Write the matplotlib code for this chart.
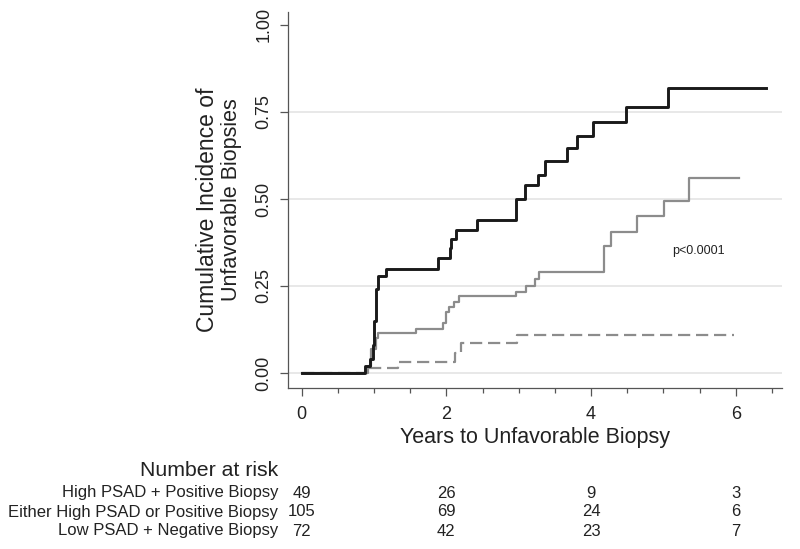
#!/usr/bin/env python3
"""
Cumulative incidence of unfavorable biopsies by PSAD / biopsy group,
with a number-at-risk table underneath.
"""

import matplotlib
matplotlib.use("Agg")
import matplotlib.pyplot as plt
import matplotlib.transforms as mtransforms

plt.rcParams['font.family'] = ['Liberation Sans', 'DejaVu Sans']

# Step curves: event times (years) and cumulative incidence after each step
HIGH_T = [0, 0.88, 0.95, 0.99, 1.00, 1.02, 1.03, 1.06, 1.17, 1.89, 2.05, 2.07,
          2.13, 2.43, 2.96, 3.09, 3.26, 3.37, 3.67, 3.81, 4.02, 4.48, 5.07, 6.42]
HIGH_Y = [0, 0.02, 0.04, 0.08, 0.15, 0.20, 0.24, 0.28, 0.30, 0.33, 0.36, 0.385,
          0.41, 0.44, 0.50, 0.54, 0.57, 0.61, 0.645, 0.68, 0.72, 0.765, 0.82, 0.82]

EITHER_T = [0, 0.92, 0.96, 1.02, 1.06, 1.58, 1.95, 1.99, 2.04, 2.10, 2.18, 2.96,
            3.10, 3.23, 3.28, 4.18, 4.27, 4.64, 5.01, 5.35, 6.04]
EITHER_Y = [0, 0.02, 0.07, 0.10, 0.115, 0.127, 0.143, 0.175, 0.19, 0.205, 0.22,
            0.233, 0.25, 0.27, 0.29, 0.365, 0.405, 0.45, 0.495, 0.56, 0.56]

LOW_T = [0, 0.90, 1.33, 2.12, 2.20, 2.98, 5.97]
LOW_Y = [0, 0.014, 0.033, 0.058, 0.085, 0.11, 0.11]

# Number at risk table
RISK_TIMES = [0, 2, 4, 6]
RISK_LABELS = ['High PSAD + Positive Biopsy',
               'Either High PSAD or Positive Biopsy',
               'Low PSAD + Negative Biopsy']
RISK_COUNTS = [[49, 26, 9, 3],
               [105, 69, 24, 6],
               [72, 42, 23, 7]]

Y_TICKS = [0, 0.25, 0.5, 0.75, 1.0]
Y_TICKLABELS = ['0.00', '0.25', '0.50', '0.75', '1.00']
X_TICKS = [0, 2, 4, 6]
YLABEL_LINES = ['Cumulative Incidence of', 'Unfavorable Biopsies']

W, H = 800, 549
TXT = '#222222'


def fy(py):
    # pixel row -> figure fraction
    return 1 - py / H


def main():
    fig = plt.figure(figsize=(W / 100, H / 100), dpi=100)
    ax = fig.add_axes([288 / W, fy(388), (782 - 288) / W, (388 - 12) / H])

    for y in [0, 0.25, 0.5, 0.75]:
        ax.axhline(y, color='#e6e6e6', lw=1.3, zorder=0)

    ax.step(LOW_T, LOW_Y, where='post', color='#8c8c8c', lw=1.6,
            dashes=(5.5, 2.6))
    ax.step(EITHER_T, EITHER_Y, where='post', color='#8c8c8c', lw=1.6)
    ax.step(HIGH_T, HIGH_Y, where='post', color='#1a1a1a', lw=2.1)

    ax.set_xlim(-0.19, 6.64)
    ax.set_ylim(-0.043, 1.037)

    for s in ['top', 'right']:
        ax.spines[s].set_visible(False)
    for s in ['left', 'bottom']:
        ax.spines[s].set_color('#555555')
        ax.spines[s].set_linewidth(0.9)

    ax.set_xticks(X_TICKS)
    ax.set_xticks([x / 2 for x in range(14)], minor=True)
    ax.set_yticks(Y_TICKS)
    ax.set_yticklabels(Y_TICKLABELS, rotation=90, va='center')
    ax.tick_params(axis='both', which='major', length=6, width=0.9,
                   color='#555555', labelsize=13, labelcolor=TXT)
    ax.tick_params(axis='x', which='minor', length=3.5, width=0.9,
                   color='#555555')
    ax.tick_params(axis='x', pad=7)
    ax.tick_params(axis='y', pad=5)

    ax.set_xlabel('Years to Unfavorable Biopsy', fontsize=15.5,
                  color=TXT, labelpad=3)

    # two-line y label, placed line by line
    fig.text(208 / W, fy(210), YLABEL_LINES[0], rotation=90, ha='center',
             va='center', fontsize=16.5, color=TXT)
    fig.text(231 / W, fy(200), YLABEL_LINES[1], rotation=90, ha='center',
             va='center', fontsize=15.5, color=TXT)

    ax.text(5.49, 0.35, 'p<0.0001', fontsize=9, color=TXT,
            ha='center', va='center')

    # Number at risk table
    tr = mtransforms.blended_transform_factory(ax.transData, fig.transFigure)
    fig.text(278 / W, fy(470), 'Number at risk', ha='right', va='center',
             fontsize=15.3, color=TXT)
    row_y = [493, 512, 531]
    for label, counts, py in zip(RISK_LABELS, RISK_COUNTS, row_y):
        fig.text(278 / W, fy(py), label, ha='right', va='center',
                 fontsize=12, color=TXT)
        for t, n in zip(RISK_TIMES, counts):
            fig.text(t, fy(py), str(n), transform=tr, ha='center',
                     va='center', fontsize=12, color=TXT)

    fig.savefig('out.png', dpi=100)
    plt.close(fig)


if __name__ == "__main__":
    main()
